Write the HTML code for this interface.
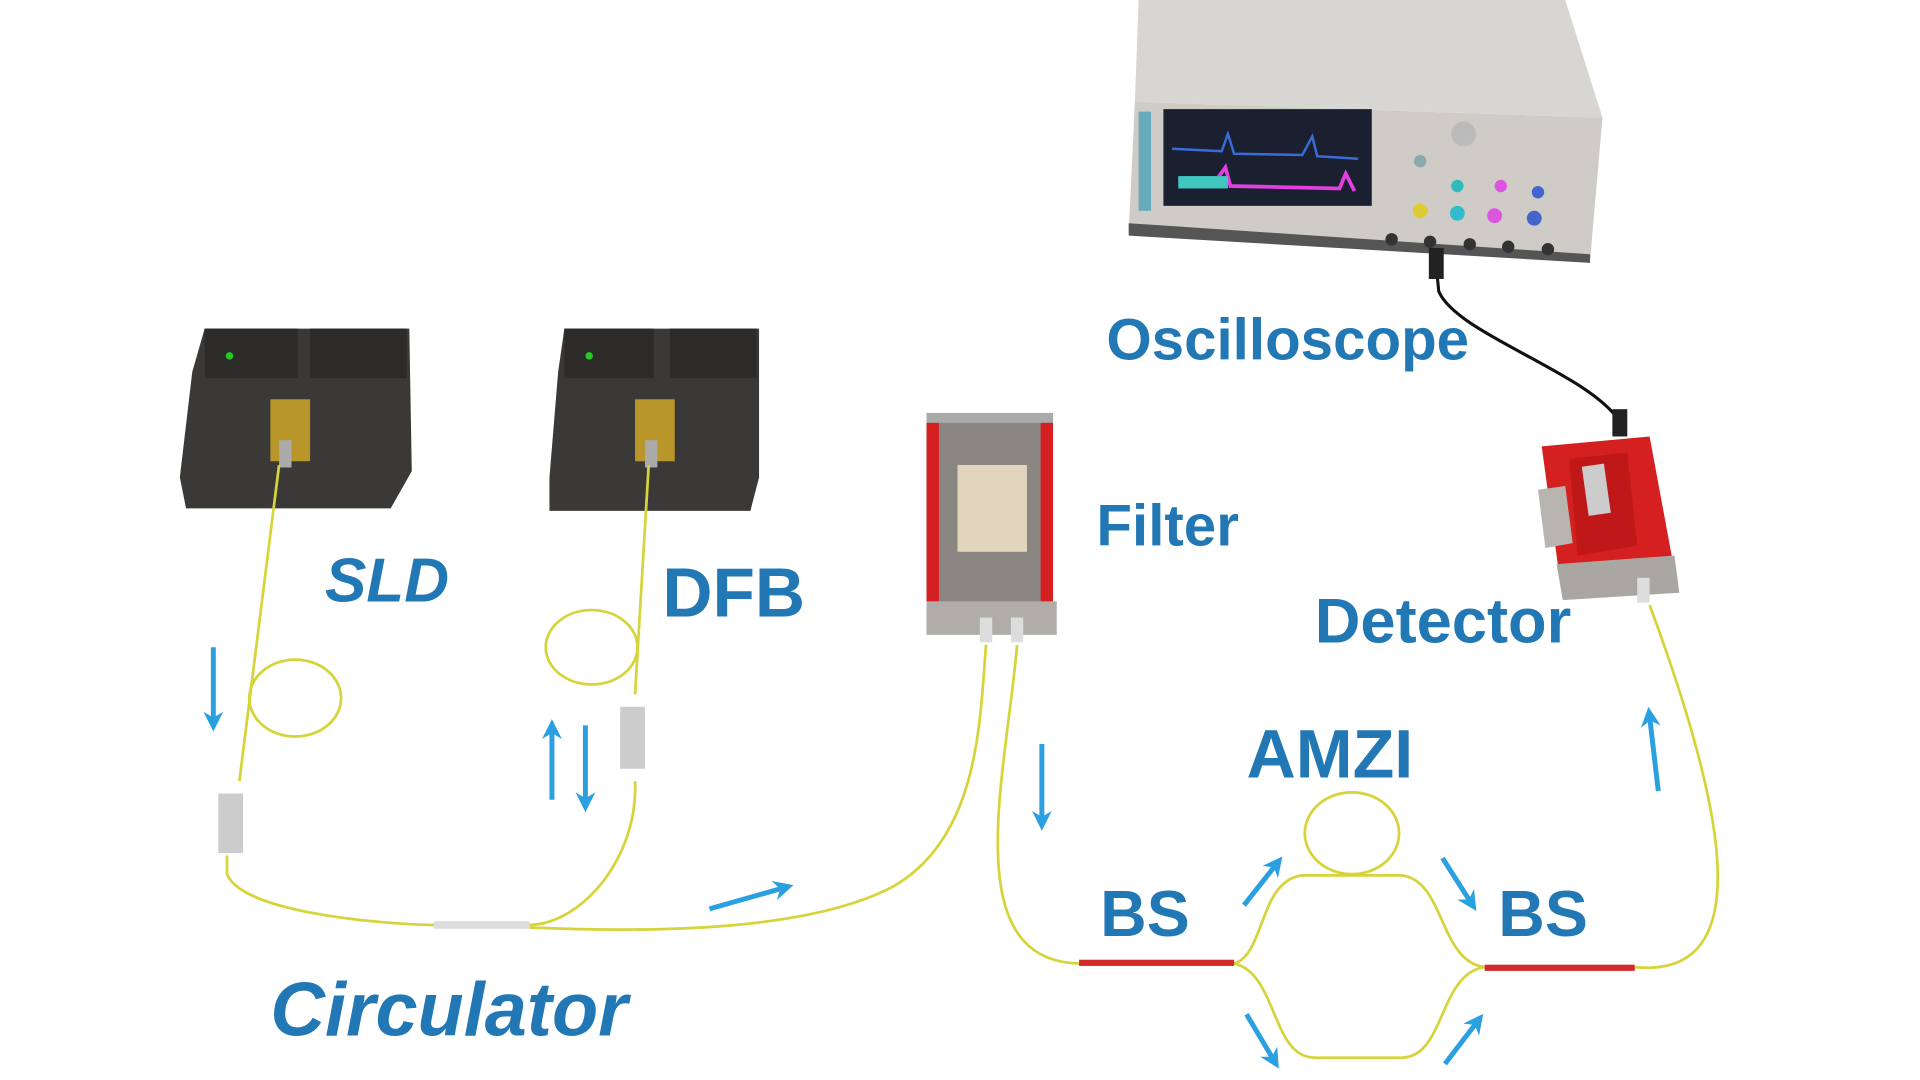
<!DOCTYPE html>
<html><head><meta charset="utf-8"><style>
html,body{margin:0;padding:0;background:#fff;width:1920px;height:1080px;overflow:hidden}
svg{display:block}
text{font-family:"Liberation Sans",sans-serif;font-weight:bold;fill:#2278b4}
</style></head><body>
<svg width="1920" height="1080" viewBox="0 0 1548 871" preserveAspectRatio="none">
<defs>
<marker id="ah" viewBox="0 0 10 10" refX="5" refY="5" markerWidth="4" markerHeight="4" orient="auto"><path d="M0,0 L10,5 L0,10 L3,5z" fill="#2aa0e0"/></marker>
</defs>
<!-- Oscilloscope -->
<polygon points="918,0 1262,0 1292,95 915,82" fill="#d8d6d3"/>
<polygon points="915,82 1292,95 1282,210 910,188" fill="#cfccc8"/>
<polygon points="910,180 1282,205 1282,212 910,190" fill="#555"/>
<rect x="938" y="88" width="168" height="78" fill="#1a2030"/>
<path d="M945,120 L985,122 L990,108 L995,124 L1050,125 L1058,110 L1062,126 L1095,128" stroke="#3a6bd8" stroke-width="2" fill="none"/>
<path d="M950,145 L980,146 L988,135 L992,150 L1080,152 L1085,140 L1092,154" stroke="#e040e0" stroke-width="3" fill="none"/>
<rect x="950" y="142" width="40" height="10" fill="#40c8c0"/>
<g fill="#8aa">
<circle cx="1180" cy="108" r="10" fill="#bbb"/>
<circle cx="1145" cy="130" r="5"/><circle cx="1175" cy="150" r="5" fill="#3bb"/><circle cx="1210" cy="150" r="5" fill="#d5d"/><circle cx="1240" cy="155" r="5" fill="#46c"/>
<circle cx="1145" cy="170" r="6" fill="#dc3"/><circle cx="1175" cy="172" r="6" fill="#3bc"/><circle cx="1205" cy="174" r="6" fill="#d5d"/><circle cx="1237" cy="176" r="6" fill="#46c"/>
</g>
<g fill="#333"><circle cx="1122" cy="193" r="5"/><circle cx="1153" cy="195" r="5"/><circle cx="1185" cy="197" r="5"/><circle cx="1216" cy="199" r="5"/><circle cx="1248" cy="201" r="5"/></g>
<rect x="918" y="90" width="10" height="80" fill="#6ab"/>
<!-- cable -->
<path d="M1157,205 L1160,235 C1175,270 1280,300 1306,340" stroke="#111" stroke-width="2.5" fill="none"/>
<rect x="1152" y="200" width="12" height="25" fill="#222"/>
<rect x="1300" y="330" width="12" height="22" fill="#222"/>
<!-- Detector -->
<polygon points="1243,360 1330,352 1350,460 1258,470" fill="#d42020"/>
<polygon points="1265,370 1312,365 1320,440 1272,448" fill="#c01818"/>
<rect x="1278" y="375" width="18" height="40" fill="#ccc" transform="rotate(-8 1287 395)"/>
<polygon points="1240,395 1262,392 1268,438 1246,442" fill="#b8b4b0"/>
<polygon points="1255,455 1350,448 1354,478 1260,484" fill="#aaa6a2"/>
<rect x="1320" y="466" width="10" height="20" fill="#ddd"/>
<!-- SLD -->
<polygon points="165,265 330,265 332,380 315,410 150,410 145,385 155,300" fill="#3b3937"/>
<rect x="165" y="265" width="75" height="40" fill="#2d2b29"/>
<rect x="250" y="265" width="78" height="40" fill="#2d2b29"/>
<rect x="218" y="322" width="32" height="50" fill="#b8962a"/>
<circle cx="185" cy="287" r="3" fill="#2c2"/>
<rect x="225" y="355" width="10" height="22" fill="#aaa"/>
<!-- DFB -->
<polygon points="455,265 612,265 612,385 605,412 443,412 443,385 450,300" fill="#3b3937"/>
<rect x="455" y="265" width="72" height="40" fill="#2d2b29"/>
<rect x="540" y="265" width="70" height="40" fill="#2d2b29"/>
<rect x="512" y="322" width="32" height="50" fill="#b8962a"/>
<circle cx="475" cy="287" r="3" fill="#2c2"/>
<rect x="520" y="355" width="10" height="22" fill="#aaa"/>
<!-- Filter -->
<rect x="747" y="335" width="102" height="175" fill="#8a8682"/>
<rect x="747" y="340" width="10" height="145" fill="#d42020"/>
<rect x="839" y="340" width="10" height="145" fill="#d42020"/>
<rect x="747" y="333" width="102" height="8" fill="#aaa"/>
<rect x="772" y="375" width="56" height="70" fill="#e2d5bd"/>
<rect x="747" y="485" width="105" height="27" fill="#b0aca8"/>
<rect x="790" y="498" width="10" height="20" fill="#ddd"/><rect x="815" y="498" width="10" height="20" fill="#ddd"/>
<!-- fibers -->
<g stroke="#d6d43a" stroke-width="2.2" fill="none">
<path d="M225,375 L193,630"/>
<ellipse cx="238" cy="563" rx="37" ry="31"/>
<path d="M183,690 L183,705 C195,735 300,745 350,746"/>
<path d="M523,375 L512,560"/>
<ellipse cx="477" cy="522" rx="37" ry="30"/>
<path d="M512,630 C515,690 470,745 427,746"/>
<path d="M427,748 C520,752 650,752 720,715 C790,675 790,580 795,520"/>
<path d="M820,520 C812,620 770,775 870,777"/>
<path d="M995,777 C1020,770 1015,710 1050,706 L1130,706 C1165,710 1160,775 1197,780"/>
<path d="M995,777 C1030,785 1025,853 1060,853 L1130,853 C1165,853 1160,785 1197,780"/>
<ellipse cx="1090" cy="672" rx="38" ry="33"/>
<path d="M1318,780 C1420,790 1390,650 1330,488"/>
</g>
<rect x="350" y="743" width="77" height="6" fill="#ddd"/>
<rect x="870" y="774" width="125" height="5" fill="#d42a2a"/>
<rect x="1197" y="778" width="121" height="5" fill="#d42a2a"/>
<rect x="176" y="640" width="20" height="48" fill="#ccc"/>
<rect x="500" y="570" width="20" height="50" fill="#ccc"/>
<!-- arrows -->
<g stroke="#2aa0e0" stroke-width="4" marker-end="url(#ah)">
<line x1="172" y1="522" x2="172" y2="582"/>
<line x1="445" y1="645" x2="445" y2="588"/>
<line x1="472" y1="585" x2="472" y2="647"/>
<line x1="572" y1="733" x2="632" y2="716"/>
<line x1="840" y1="600" x2="840" y2="662"/>
<line x1="1003" y1="730" x2="1029" y2="697"/>
<line x1="1163" y1="692" x2="1186" y2="728"/>
<line x1="1005" y1="818" x2="1027" y2="855"/>
<line x1="1165" y1="858" x2="1191" y2="824"/>
<line x1="1337" y1="638" x2="1330" y2="578"/>
</g>
<!-- labels -->
<text x="892" y="290" font-size="47">Oscilloscope</text>
<text x="262" y="485" font-size="50" font-style="italic">SLD</text>
<text x="534" y="497" font-size="56">DFB</text>
<text x="884" y="440" font-size="47">Filter</text>
<text x="1060" y="518" font-size="51">Detector</text>
<text x="1005" y="627" font-size="55">AMZI</text>
<text x="887" y="755" font-size="52">BS</text>
<text x="1208" y="755" font-size="52">BS</text>
<text x="218" y="835" font-size="61" font-style="italic">Circulator</text>
</svg>
</body></html>
